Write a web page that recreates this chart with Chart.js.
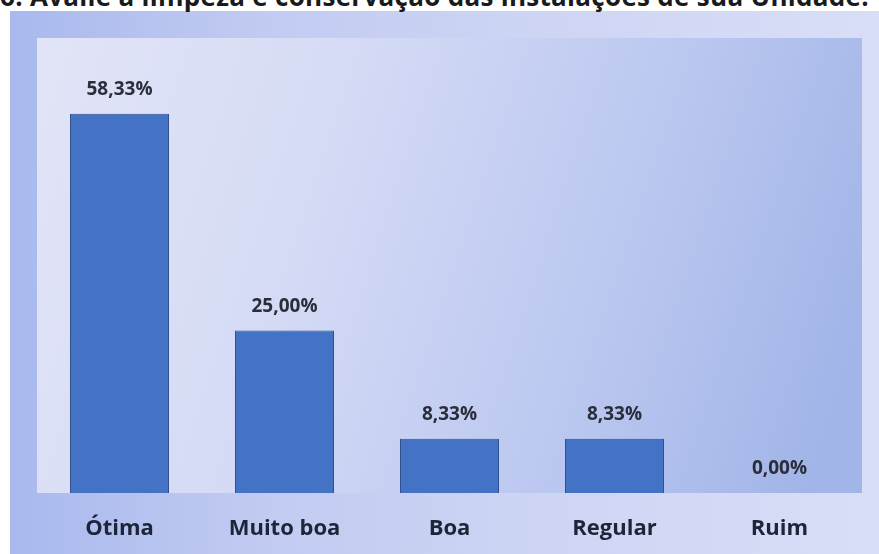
<!DOCTYPE html>
<html>
<head>
<meta charset="utf-8">
<script src="https://cdn.jsdelivr.net/npm/chart.js@4"></script>
<style>
  html, body { margin: 0; padding: 0; background: #fff; overflow: hidden; }
  #wrap { position: relative; width: 879px; height: 554px; overflow: hidden; }
  #panel {
    position: absolute; left: 10px; top: 11px; right: 0; bottom: 0;
    background: linear-gradient(90deg, #a9b9ee 0%, #c2cbf1 30%, #cfd6f4 65%, #d8def6 100%);
  }
  #title {
    position: absolute; left: 0px; top: -22px; white-space: nowrap;
    font-family: "Open Sans", sans-serif; font-weight: bold; font-size: 26px;
    letter-spacing: 0.3px; color: #1a1a1a;
  }
  #chart { position: absolute; left: 0; top: 0; }
</style>
</head>
<body>
<div id="wrap">
  <div id="panel"></div>
  <div id="title">6. Avalie a limpeza e conservação das instalações de sua Unidade.</div>
  <canvas id="chart" width="879" height="554"></canvas>
</div>
<script>
const categories = ['Ótima', 'Muito boa', 'Boa', 'Regular', 'Ruim'];
const percentValues = [58.33, 25.00, 8.33, 8.33, 0.00];

// fundo da área do gráfico em degradê
const plotBackground = {
  id: 'plotBackground',
  beforeDraw(chart) {
    const { ctx, chartArea: a } = chart;
    const g = ctx.createLinearGradient(a.left, a.top, a.right, a.top + (a.bottom - a.top) * 0.6);
    g.addColorStop(0, '#e2e4f7');
    g.addColorStop(0.35, '#d5dbf5');
    g.addColorStop(0.7, '#bcc8f0');
    g.addColorStop(1, '#a2b5e8');
    ctx.save();
    ctx.fillStyle = g;
    ctx.fillRect(a.left, a.top, a.right - a.left, a.bottom - a.top);
    ctx.restore();
  }
};

// rótulos com o valor acima das barras
const valueLabels = {
  id: 'valueLabels',
  afterDatasetsDraw(chart) {
    const { ctx } = chart;
    const meta = chart.getDatasetMeta(0);
    ctx.save();
    ctx.font = 'bold 19px "Open Sans", sans-serif';
    ctx.fillStyle = '#2a2e3a';
    ctx.textAlign = 'center';
    ctx.textBaseline = 'middle';
    meta.data.forEach(function (bar, i) {
      const txt = percentValues[i].toFixed(2).replace('.', ',') + '%';
      ctx.fillText(txt, bar.x, bar.y - 24);
    });
    ctx.restore();
  }
};

new Chart(document.getElementById('chart').getContext('2d'), {
  type: 'bar',
  data: {
    labels: categories,
    datasets: [{
      data: percentValues,
      backgroundColor: '#4472c4',
      borderColor: '#2f528f',
      borderWidth: 1,
      barPercentage: 0.6,
      categoryPercentage: 1
    }]
  },
  options: {
    responsive: false,
    animation: false,
    layout: { padding: { left: 37, right: 17, top: 38, bottom: 0 } },
    scales: {
      x: {
        grid: { display: false },
        border: { display: false },
        ticks: {
          padding: 15,
          color: '#1d2538',
          font: { family: '"Open Sans", sans-serif', size: 22, weight: 'bold' }
        },
        afterFit: function (scale) { scale.height = 61; }
      },
      y: { display: false, min: 0, max: 70 }
    },
    plugins: {
      legend: { display: false },
      tooltip: { enabled: false }
    }
  },
  plugins: [plotBackground, valueLabels]
});
</script>
</body>
</html>
